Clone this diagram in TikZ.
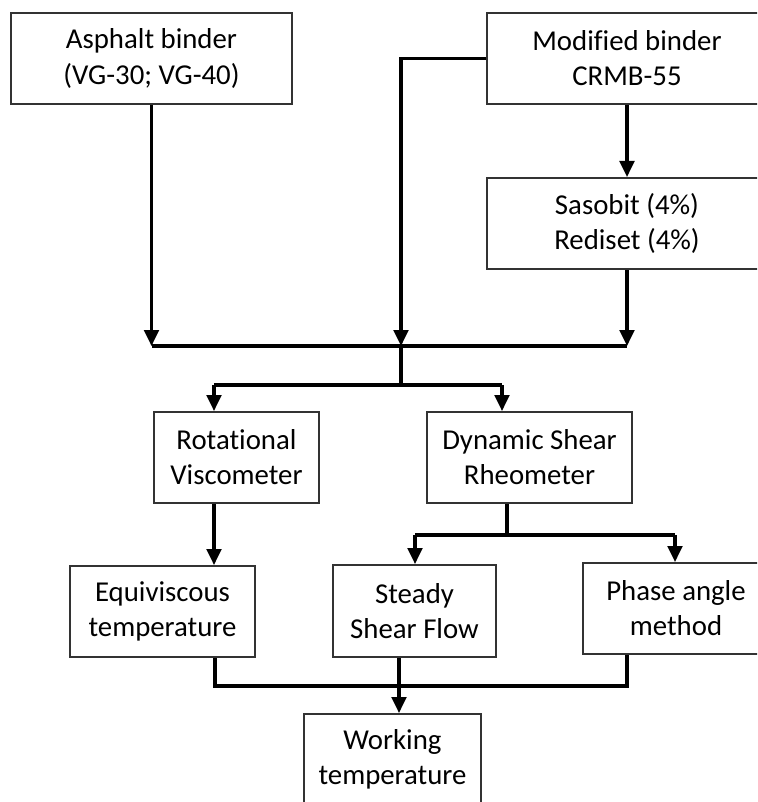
\documentclass[tikz,border=0pt]{standalone}
\usepackage{fontspec}
\setmainfont{Carlito}[Ligatures=CommonOff]
\usetikzlibrary{arrows.meta}

\begin{document}
\begin{tikzpicture}[
  x=0.75pt, y=-0.75pt,
  >={Triangle[length=12pt, width=11pt]},
  box/.style={draw=black!80, line width=1.5pt, rectangle, align=center, inner sep=0pt,
    font=\fontsize{21.6}{26.3}\selectfont},
  boxsize/.style 2 args={minimum width=#1*0.75pt, minimum height=#2*0.75pt},
  wire/.style={->, line width=2.3pt},
  link/.style={line width=2.3pt}
]
\useasboundingbox (0,0) rectangle (757,802);
\clip (0,0) rectangle (757,802);

% Binders
\node[box, boxsize={281}{91}] (asphalt) at (151.5, 58.5) {Asphalt binder\\(VG-30; VG-40)};
\node[box, boxsize={280}{91}] (modified) at (627, 58.5) {Modified binder\\CRMB-55};
\node[box, boxsize={280}{91}] (additive) at (627, 223.5) {Sasobit (4\%)\\Rediset (4\%)};

% Tests
\node[box, boxsize={165}{91}] (rv) at (236.5, 457.5) {Rotational\\Viscometer};
\node[box, boxsize={205}{91}] (dsr) at (529.5, 457.5) {Dynamic Shear\\Rheometer};

% Methods
\node[box, boxsize={185}{91}] (equi) at (162.5, 611.5) {Equiviscous\\temperature};
\node[box, boxsize={163}{92}] (ssf) at (414.5, 611) {Steady\\Shear Flow};
\node[box, boxsize={186}{91}] (phase) at (676, 608.5) {Phase angle\\method};

% Result
\node[box, boxsize={177}{91}] (work) at (392.5, 759.5) {Working\\temperature};

% Junctions
\coordinate (merge) at (401, 346);
\coordinate (split) at (401, 385);
\coordinate (rv_in) at (214, 385);
\coordinate (dsr_in) at (502, 385);
\coordinate (dsr_out) at (507, 535);
\coordinate (ssf_in) at (415, 535);
\coordinate (phase_in) at (675, 535);
\coordinate (equi_out) at (215, 686);
\coordinate (phase_out) at (627, 686);
\coordinate (work_in) at (399, 686);

% Binders to merge line
\draw[wire] (asphalt) -- (asphalt |- merge);
\draw[wire] (modified.west) -| (merge);
\draw[wire] (modified) -- (additive);
\draw[wire] (additive) -- (additive |- merge);
\draw[link] (asphalt |- merge) -- (additive |- merge);

% Merge to tests
\draw[link] (merge) -- (split);
\draw[link] (rv_in) -- (dsr_in);
\draw[wire] (rv_in) -- (rv_in |- rv.north);
\draw[wire] (dsr_in) -- (dsr_in |- dsr.north);

% Tests to methods
\draw[wire] (rv.south -| rv_in) -- (rv_in |- equi.north);
\draw[link] (dsr.south -| dsr_out) -- (dsr_out);
\draw[link] (ssf_in) -- (phase_in);
\draw[wire] (ssf_in) -- (ssf_in |- ssf.north);
\draw[wire] (phase_in) -- (phase_in |- phase.north);

% Methods to result
\draw[link] (equi.south -| equi_out) -- (equi_out) -- (phase_out) -- (phase.south -| phase_out);
\draw[wire] (ssf.south -| work_in) -- (work_in |- work.north);
\end{tikzpicture}
\end{document}
